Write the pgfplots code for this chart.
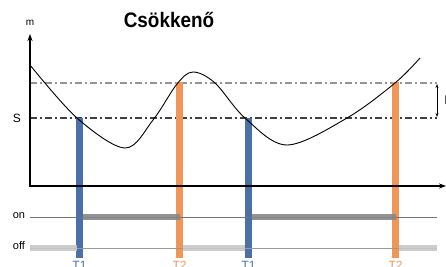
\documentclass[border=0pt]{standalone}
\usepackage{pgfplots}
\pgfplotsset{compat=1.18}
\usepackage{fontspec}
\setmainfont{Liberation Sans}
\usetikzlibrary{arrows.meta}
\definecolor{tblue}{RGB}{75,111,168}
\definecolor{torange}{RGB}{240,150,88}
\definecolor{ondark}{RGB}{135,135,135}
\definecolor{offlight}{RGB}{200,200,200}
\begin{document}
\begin{tikzpicture}
\begin{axis}[
  scale only axis, width=446pt, height=267pt,
  xmin=0, xmax=446, ymin=0, ymax=267, y dir=reverse,
  hide axis, clip=false,
]
% dash-dot levels
\addplot[color=gray!85, line width=1.1pt, dash pattern=on 7pt off 3pt on 2pt off 3pt] coordinates {(30,83) (437,83)};
\addplot[color=black!75, line width=1.1pt, dash pattern=on 7pt off 3pt on 2pt off 3pt] coordinates {(30,118) (437,118)};
% vertical bars
\addplot[color=tblue, line width=7pt] coordinates {(79.5,118) (79.5,258)};
\addplot[color=torange, line width=7pt] coordinates {(179.5,82) (179.5,258)};
\addplot[color=tblue, line width=7pt] coordinates {(248.5,118) (248.5,258)};
\addplot[color=torange, line width=7pt] coordinates {(395.5,82) (395.5,258)};
% curve
\addplot[black, line width=0.9pt, smooth, tension=0.55] coordinates {
(30,65) (77,118) (125,148) (153,120) (177,84) (193,72) (215,83) (245,118)
(287,145) (347,118) (395,83) (420,58)};
% axes
\addplot[black, line width=1.5pt, -{Stealth[length=7pt,width=5pt]}] coordinates {(30,186) (30,34)};
\addplot[black, line width=1.5pt, -{Stealth[length=7pt,width=5pt]}] coordinates {(29.25,186) (446,186)};
% on/off thin lines
\addplot[color=black!55, line width=0.7pt] coordinates {(30,217) (437,217)};
\addplot[color=black!40, line width=0.7pt] coordinates {(30,248) (437,248)};
% on bars
\addplot[color=ondark, opacity=0.9, line width=6pt] coordinates {(83,217) (180,217)};
\addplot[color=ondark, opacity=0.9, line width=6pt] coordinates {(252,217) (396,217)};
% off bars
\addplot[color=offlight, opacity=0.9, line width=6pt] coordinates {(30,248) (77,248)};
\addplot[color=offlight, opacity=0.9, line width=6pt] coordinates {(183,248) (245,248)};
\addplot[color=offlight, opacity=0.9, line width=6pt] coordinates {(399,248) (437,248)};
% h arrow
\addplot[black, line width=0.8pt, {Stealth[length=4pt,width=3pt]}-{Stealth[length=4pt,width=3pt]}] coordinates {(437,84) (437,117)};
% texts
\node[anchor=base] at (axis cs:169,28) {\fontsize{21}{21}\selectfont\bfseries\scalebox{0.9}[1]{Csökkenő}};
\node[anchor=base] at (axis cs:30,26) {\fontsize{10}{10}\selectfont m};
\node at (axis cs:17,118) {\fontsize{12}{12}\selectfont S};
\node at (axis cs:19,216) {\fontsize{11}{11}\selectfont on};
\node at (axis cs:19,246) {\fontsize{11}{11}\selectfont off};
\node[anchor=west] at (axis cs:441,100) {\fontsize{12}{12}\selectfont h};
\node[anchor=north, text=tblue, inner sep=0pt] at (axis cs:79.5,261) {\fontsize{12}{12}\selectfont T1};
\node[anchor=north, text=torange, inner sep=0pt] at (axis cs:179.5,261) {\fontsize{12}{12}\selectfont T2};
\node[anchor=north, text=tblue, inner sep=0pt] at (axis cs:248.5,261) {\fontsize{12}{12}\selectfont T1};
\node[anchor=north, text=torange, inner sep=0pt] at (axis cs:395.5,261) {\fontsize{12}{12}\selectfont T2};
\end{axis}
\pgfresetboundingbox
\useasboundingbox (current axis.south west) rectangle (current axis.north east);
\end{tikzpicture}
\end{document}
